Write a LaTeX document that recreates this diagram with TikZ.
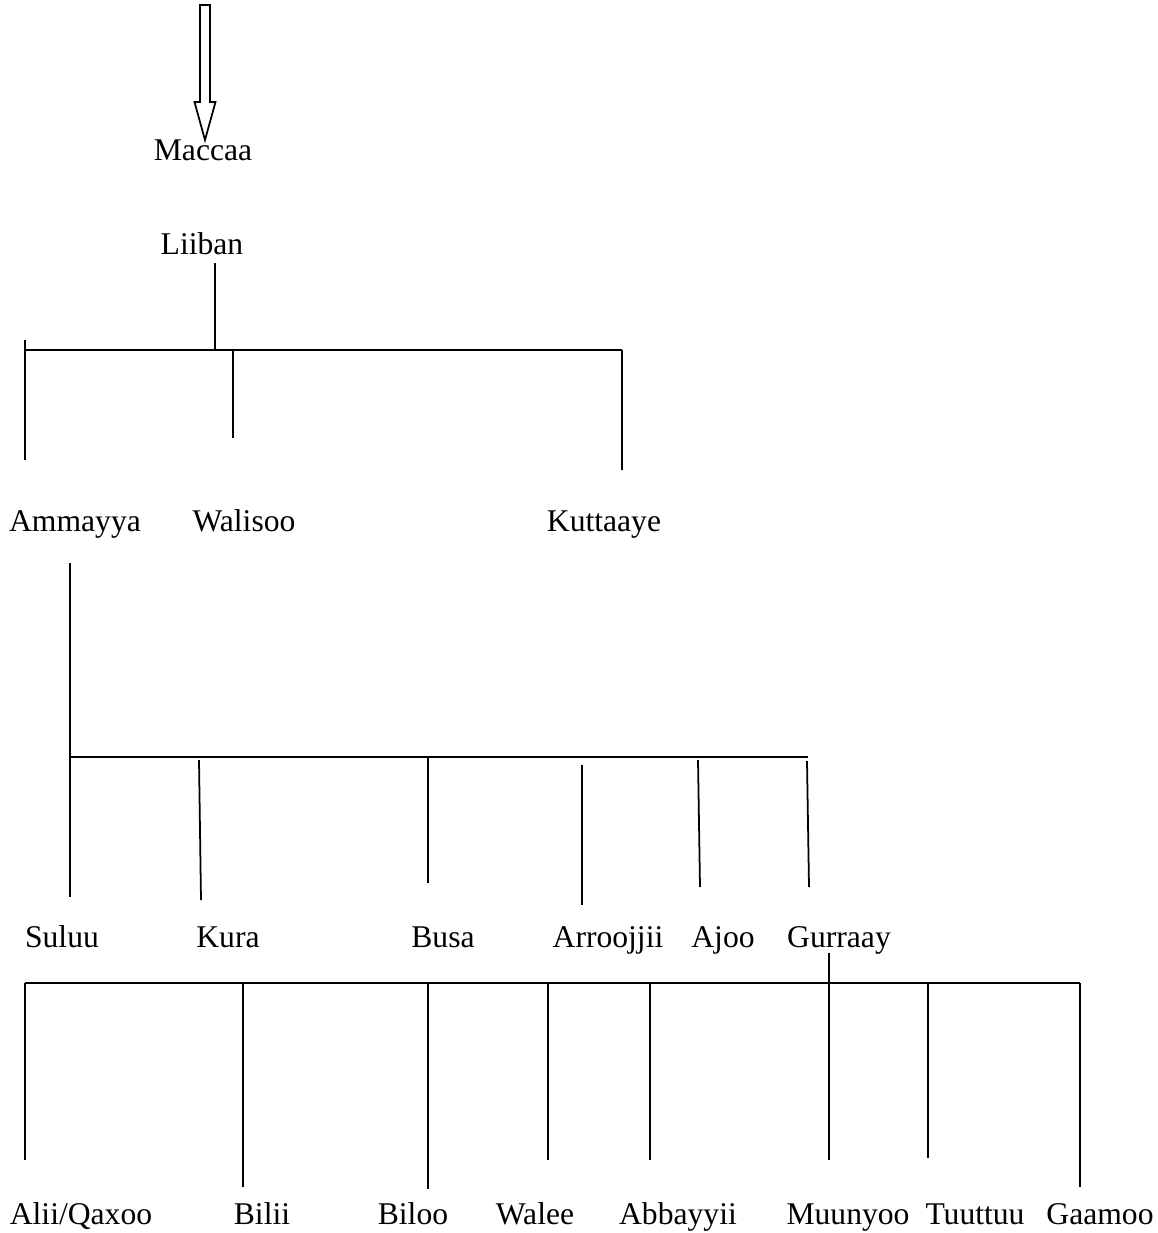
\documentclass[tikz,border=0pt]{standalone}
\usepackage{fontspec}
\setmainfont{Liberation Serif}
\begin{document}
\begin{tikzpicture}[x=0.02cm,y=-0.02cm,
  lbl/.style={anchor=base,inner sep=0pt,font=\fontsize{18}{22}\selectfont},
  ln/.style={line width=1pt,black}]
\useasboundingbox (0,0) rectangle (1158,1233);
% hollow arrow
\coordinate (a1) at (200,5);
\draw[ln] (a1) -- (210,5) -- (210,102) -- (215.5,102) -- (205,140) -- (194.5,102) -- (200,102) -- cycle;
% labels
\node[lbl] (maccaa) at (203,161) {Maccaa};
\node[lbl] (liiban) at (202,255) {Liiban};
\node[lbl] (ammayya) at (75,531) {Ammayya};
\node[lbl] (walisoo) at (244,531) {Walisoo};
\node[lbl] (kuttaaye) at (604,531) {Kuttaaye};
\node[lbl] (suluu) at (62,947) {Suluu};
\node[lbl] (kura) at (228,947) {Kura};
\node[lbl] (busa) at (443,947) {Busa};
\node[lbl] (arroojjii) at (608,947) {Arroojjii};
\node[lbl] (ajoo) at (723,947) {Ajoo};
\node[lbl] (gurraay) at (839,947) {Gurraay};
\node[lbl] (alii) at (81,1224) {Alii/Qaxoo};
\node[lbl] (bilii) at (262,1224) {Bilii};
\node[lbl] (biloo) at (413,1224) {Biloo};
\node[lbl] (walee) at (535,1224) {Walee};
\node[lbl] (abbayyii) at (678,1224) {Abbayyii};
\node[lbl] (muunyoo) at (848,1224) {Muunyoo};
\node[lbl] (tuuttuu) at (975,1224) {Tuuttuu};
\node[lbl] (gaamoo) at (1100,1224) {Gaamoo};
% first level
\coordinate (b1l) at (25,350);
\coordinate (b1r) at (622,350);
\draw[ln] (b1l) -- (b1r);
\foreach \n/\xa/\ya/\xb/\yb in {liib/215/263/215/350, amm/25/340/25/460, wal/233/350/233/438, kut/622/350/622/470}{
  \coordinate (\n t) at (\xa,\ya);
  \coordinate (\n b) at (\xb,\yb);
  \draw[ln] (\n t) -- (\n b);
}
% second level
\coordinate (b2l) at (70,757);
\coordinate (b2r) at (808,757);
\draw[ln] (b2l) -- (b2r);
\foreach \n/\xa/\ya/\xb/\yb in {ammd/70/563/70/757, sul/70/757/70/897, kur/199/760/201/900, bus/428/757/428/883, arr/582/765/582/905, ajo/698/760/700/887, gur/807/761/809/887}{
  \coordinate (\n t) at (\xa,\ya);
  \coordinate (\n b) at (\xb,\yb);
  \draw[ln] (\n t) -- (\n b);
}
% third level
\coordinate (b3l) at (25,983);
\coordinate (b3r) at (1080,983);
\draw[ln] (b3l) -- (b3r);
\foreach \n/\xa/\ya/\xb/\yb in {ali/25/983/25/1160, bil/243/983/243/1187, blo/428/983/428/1189, wle/548/983/548/1160, abb/650/983/650/1160, muu/829/953/829/1160, tuu/928/983/928/1158, gaa/1080/983/1080/1187}{
  \coordinate (\n t) at (\xa,\ya);
  \coordinate (\n b) at (\xb,\yb);
  \draw[ln] (\n t) -- (\n b);
}
\end{tikzpicture}
\end{document}
